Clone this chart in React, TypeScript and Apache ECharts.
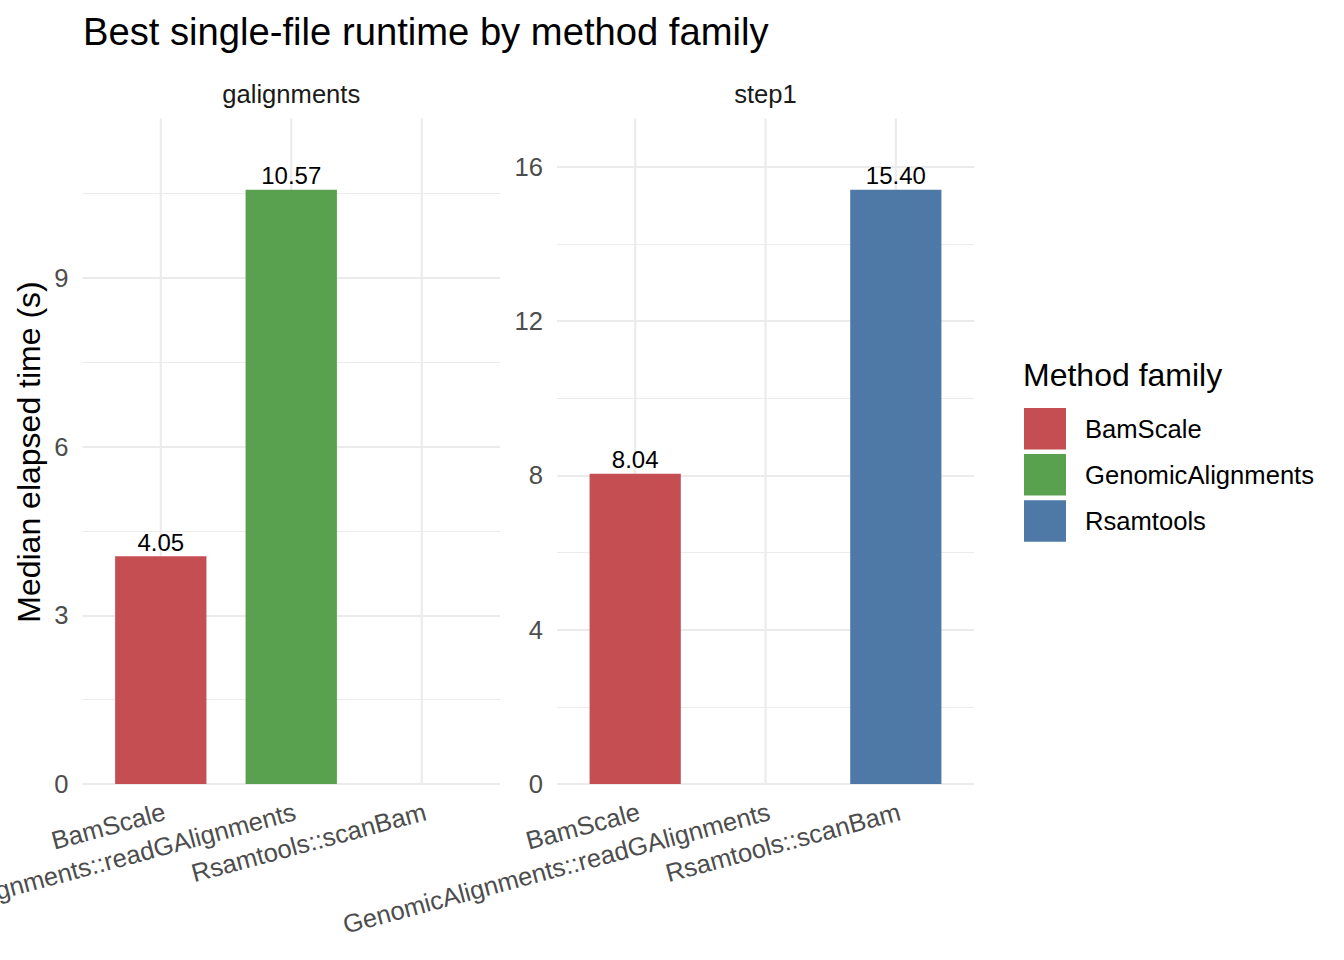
import React, { useEffect, useRef } from "react";
import * as echarts from "echarts";

const CATEGORIES = ["BamScale", "GenomicAlignments::readGAlignments", "Rsamtools::scanBam"];
const FAMILIES = ["BamScale", "GenomicAlignments", "Rsamtools"];
const FAMILY_COLORS = ["#C44E52", "#59A14F", "#4E79A7"];
const PANELS = ["galignments", "step1"];
const GALIGNMENTS_VALUES: (number | null)[] = [4.05, 10.57, null];
const STEP1_VALUES: (number | null)[] = [8.04, null, 15.4];
const PANEL_VALUES = [GALIGNMENTS_VALUES, STEP1_VALUES];
const Y_INTERVALS = [3, 4];

const FONT = "'Liberation Sans', Arial, Helvetica, sans-serif";

export default function App() {
  const ref = useRef<HTMLDivElement>(null);

  useEffect(() => {
    if (!ref.current) return;
    const chart = echarts.init(ref.current, undefined, { renderer: "svg" });

    const panelLeft = [82.5, 557];
    const panelWidth = [417.5, 417];
    const top = 118.5;
    const height = 665.5;

    const grids: any[] = [];
    const xAxes: any[] = [];
    const yAxes: any[] = [];
    const series: any[] = [];
    const graphics: any[] = [];

    PANELS.forEach((panel, p) => {
      const vals = PANEL_VALUES[p];
      const yMax = Math.max(...(vals.filter((v) => v != null) as number[])) * 1.12;
      const unit = panelWidth[p] / (CATEGORIES.length + 0.2);
      const bgIdx = grids.length;
      grids.push({
        left: panelLeft[p],
        top,
        width: panelWidth[p],
        height,
        containLabel: false,
        outerBoundsMode: "none",
      });
      const barIdx = grids.length;
      grids.push({
        left: panelLeft[p] + 0.1 * unit,
        top,
        width: unit * CATEGORIES.length,
        height,
        containLabel: false,
        outerBoundsMode: "none",
      });

      xAxes.push({ gridIndex: bgIdx, type: "value", min: 0, max: 1, show: false });
      xAxes.push({
        gridIndex: barIdx,
        type: "category",
        data: CATEGORIES,
        axisLine: { show: false },
        axisTick: { show: false },
        splitLine: { show: false },
        axisLabel: {
          interval: 0,
          rotate: 15,
          margin: 28,
          fontSize: 25.6,
          color: "#4D4D4D",
          fontFamily: FONT,
          padding: [0, -4, 0, 0],
        },
      });
      yAxes.push({
        gridIndex: bgIdx,
        type: "value",
        min: 0,
        max: yMax,
        interval: Y_INTERVALS[p],
        axisLine: { show: false },
        axisTick: { show: false },
        axisLabel: {
          showMaxLabel: false,
          margin: 14,
          fontSize: 25.6,
          color: "#4D4D4D",
          fontFamily: FONT,
        },
        splitLine: { show: true, showMaxLine: false, lineStyle: { color: "#EBEBEB", width: 2.1 } },
        minorTick: { show: false, splitNumber: 2 },
        minorSplitLine: { show: true, lineStyle: { color: "#EBEBEB", width: 1.1 } },
      });
      yAxes.push({ gridIndex: barIdx, type: "value", min: 0, max: yMax, show: false });

      const xi = xAxes.length - 1;
      const yi = yAxes.length - 1;

      FAMILIES.forEach((fam, fi) => {
        series.push({
          type: "bar",
          name: fam,
          xAxisIndex: xi,
          yAxisIndex: yi,
          stack: "panel" + p,
          barWidth: "70%",
          z: 2,
          itemStyle: { color: FAMILY_COLORS[fi] },
          data: vals.map((v, i) => (i === fi && v != null ? v : "-")),
          label: {
            show: true,
            position: "top",
            distance: 2,
            fontSize: 24,
            color: "#000",
            fontFamily: FONT,
            formatter: (prm: any) =>
              prm.value == null || prm.value === "-" || isNaN(Number(prm.value))
                ? ""
                : Number(prm.value).toFixed(2),
          },
        });
      });

      CATEGORIES.forEach((_cat, ci) => {
        series.push({
          type: "line",
          name: "grid-" + p + "-" + ci,
          xAxisIndex: xi,
          yAxisIndex: yi,
          data: [
            [ci, 0],
            [ci, yMax],
          ],
          symbol: "none",
          silent: true,
          z: 1,
          lineStyle: { color: "#EBEBEB", width: 2.1 },
        });
      });

      graphics.push({
        type: "text",
        x: panelLeft[p] + panelWidth[p] / 2,
        y: 94,
        style: {
          text: panel,
          font: "25.6px " + FONT,
          fill: "#1A1A1A",
          align: "center",
          verticalAlign: "middle",
        },
      });
    });

    graphics.push({
      type: "text",
      x: 83,
      y: 31.5,
      style: {
        text: "Best single-file runtime by method family",
        font: "38.2px " + FONT,
        fill: "#000",
        align: "left",
        verticalAlign: "middle",
      },
    });
    graphics.push({
      type: "text",
      x: 29,
      y: 452,
      rotation: Math.PI / 2,
      style: {
        text: "Median elapsed time (s)",
        font: "32px " + FONT,
        fill: "#000",
        align: "center",
        verticalAlign: "middle",
      },
    });
    graphics.push({
      type: "text",
      x: 1023,
      y: 375,
      style: {
        text: "Method family",
        font: "32px " + FONT,
        fill: "#000",
        align: "left",
        verticalAlign: "middle",
      },
    });

    chart.setOption({
      animation: false,
      backgroundColor: "#FFFFFF",
      grid: grids,
      xAxis: xAxes,
      yAxis: yAxes,
      series,
      legend: {
        data: FAMILIES,
        orient: "vertical",
        left: 1024,
        top: 408,
        itemWidth: 42,
        itemHeight: 41.5,
        itemGap: 4.6,
        icon: "rect",
        selectedMode: false,
        padding: 0,
        textStyle: {
          fontSize: 25.6,
          color: "#000",
          fontFamily: FONT,
          padding: [0, 0, 0, 14],
        },
      },
      graphic: graphics,
    });

    return () => chart.dispose();
  }, []);

  return (
    <div
      ref={ref}
      style={{ position: "absolute", left: 0, top: 0, width: 1344, height: 960 }}
    />
  );
}
